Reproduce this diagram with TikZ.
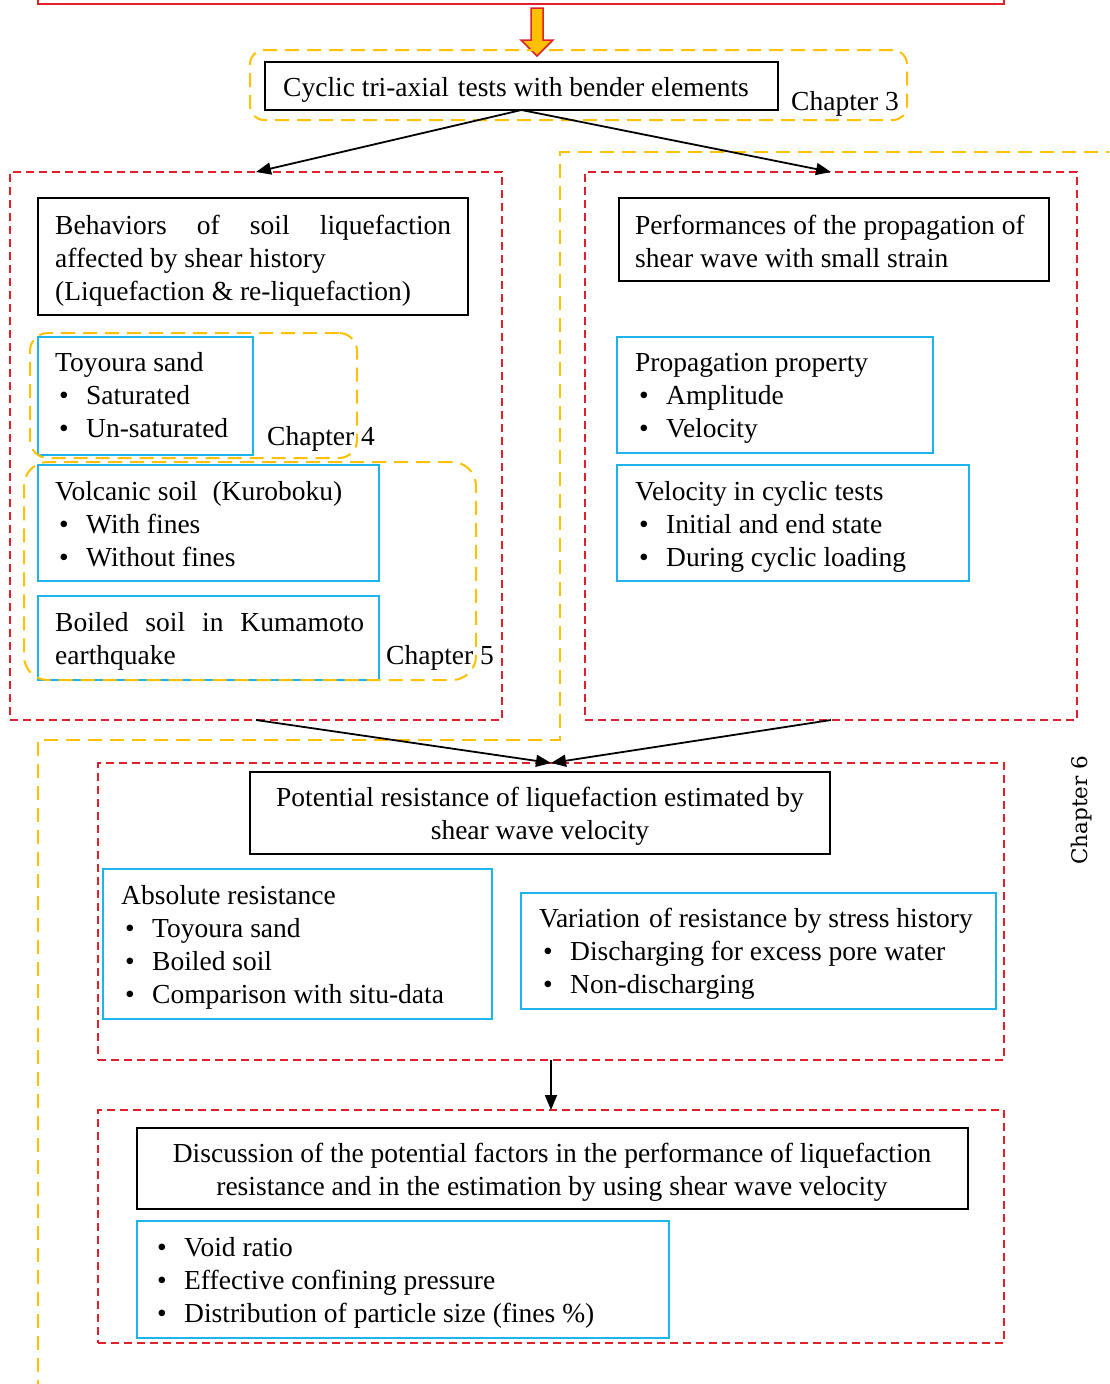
\documentclass[tikz,border=0pt]{standalone}
\usepackage{fontspec}
\setmainfont{Liberation Serif}
\newfontfamily\chapfont{DejaVu Serif}
\usetikzlibrary{arrows.meta}
\definecolor{myred}{HTML}{E0202A}
\definecolor{myyel}{HTML}{FFC000}
\definecolor{myblue}{HTML}{1CB4EC}
\tikzset{
 reddash/.style={draw=myred, line width=2pt, dash pattern=on 8pt off 5pt},
 yeldash/.style={draw=myyel, line width=2pt, dash pattern=on 14pt off 8pt},
 blackbox/.style={draw=black, line width=1.8pt},
 bluebox/.style={draw=myblue, line width=2.2pt},
 rect/.style={anchor=north west, inner sep=0pt, outer sep=0pt},
 txt/.style={anchor=base west, inner sep=0pt, font=\fontsize{27.5}{33}\selectfont},
 ctxt/.style={anchor=base, inner sep=0pt, font=\fontsize{27.5}{33}\selectfont},
 conn/.style={line width=1.8pt, -{Triangle[length=15pt,width=12pt]}},
}
\newcommand\mybul{\makebox[31pt][l]{\hspace{4pt}\textbullet}}
\begin{document}
\begin{tikzpicture}[x=1pt,y=-1pt]
\useasboundingbox (0,0) rectangle (1109,1384);
\clip (0,0) rectangle (1109,1384);
% top box and block arrow
\node[rect, draw=myred, line width=2.5pt, minimum width=966pt, minimum height=80pt, anchor=south west] (topbox) at (38,4) {};
\draw[draw=myred, fill=myyel, line width=1.5pt] (531,8) -- (543,8) -- (543,40) -- (553,40) -- (537,56) -- (521,40) -- (531,40) -- cycle;
% big yellow chapter 6 region
\draw[yeldash] (1120,152) -- (560,152) -- (560,740) -- (38,740) -- (38,1400);
% chapter 3
\node[rect, blackbox, minimum width=513pt, minimum height=48pt] (cyc) at (265,62) {};
\node[rect, yeldash, rounded corners=14pt, minimum width=657pt, minimum height=70pt] (ch3box) at (250,50) {};
\node[txt] (t1) at (283,96) {Cyclic tri-axial\hspace{9pt}tests with bender elements};
\node[txt] (c3) at (791,110) {Chapter 3};
% left red
\node[rect, reddash, minimum width=492pt, minimum height=548pt] (lred) at (10,172) {};
\node[rect, blackbox, minimum width=430pt, minimum height=117pt] (behav) at (38,198) {};
\node[txt] (b1) at (55,234) {\makebox[396pt][s]{Behaviors of soil liquefaction}};
\node[txt] (b2) at (55,267) {affected by shear history};
\node[txt] (b3) at (55,300) {(Liquefaction \& re-liquefaction)};
\node[rect, bluebox, minimum width=215pt, minimum height=118pt] (toy) at (38,337) {};
\node[txt] (ty1) at (55,371) {Toyoura sand};
\node[txt] (ty2) at (55,404) {\mybul Saturated};
\node[txt] (ty3) at (55,437) {\mybul Un-saturated};
\node[rect, yeldash, rounded corners=18pt, minimum width=327pt, minimum height=125pt] (ch4box) at (30,333) {};
\node[txt] (c4) at (267,445) {Chapter 4};
\node[rect, bluebox, minimum width=341pt, minimum height=116pt] (volc) at (38,465) {};
\node[txt] (v1) at (55,500) {Volcanic soil\hspace{15pt}(Kuroboku)};
\node[txt] (v2) at (55,533) {\mybul With fines};
\node[txt] (v3) at (55,566) {\mybul Without fines};
\node[rect, bluebox, minimum width=341pt, minimum height=84pt] (boil) at (38,596) {};
\node[txt] (bo1) at (55,631) {\makebox[309pt][s]{Boiled soil in Kumamoto}};
\node[txt] (bo2) at (55,664) {earthquake};
\node[rect, yeldash, rounded corners=24pt, minimum width=452pt, minimum height=218pt] (ch5box) at (24,462) {};
\node[txt] (c5) at (386,664) {Chapter 5};
% right red
\node[rect, reddash, minimum width=492pt, minimum height=548pt] (rred) at (585,172) {};
\node[rect, blackbox, minimum width=430pt, minimum height=83pt] (perf) at (619,198) {};
\node[txt] (p1) at (635,234) {Performances of the propagation of};
\node[txt] (p2) at (635,267) {shear wave with small strain};
\node[rect, bluebox, minimum width=316pt, minimum height=116pt] (prop) at (617,337) {};
\node[txt] (pr1) at (635,371) {Propagation property};
\node[txt] (pr2) at (635,404) {\mybul Amplitude};
\node[txt] (pr3) at (635,437) {\mybul Velocity};
\node[rect, bluebox, minimum width=352pt, minimum height=116pt] (vel) at (617,465) {};
\node[txt] (ve1) at (635,500) {Velocity in cyclic tests};
\node[txt] (ve2) at (635,533) {\mybul Initial and end state};
\node[txt] (ve3) at (635,566) {\mybul During cyclic loading};
% third red
\node[rect, reddash, minimum width=906pt, minimum height=297pt] (p3) at (98,763) {};
\node[rect, blackbox, minimum width=580pt, minimum height=82pt] (pot) at (250,772) {};
\node[ctxt] (po1) at (540,806) {Potential resistance of liquefaction estimated by};
\node[ctxt] (po2) at (540,839) {shear wave velocity};
\node[rect, bluebox, minimum width=389pt, minimum height=150pt] (abs) at (103,869) {};
\node[txt] (a1) at (121,904) {Absolute resistance};
\node[txt] (a2) at (121,937) {\mybul Toyoura sand};
\node[txt] (a3) at (121,970) {\mybul Boiled soil};
\node[txt] (a4) at (121,1003) {\mybul Comparison with situ-data};
\node[rect, bluebox, minimum width=475pt, minimum height=116pt] (var) at (521,893) {};
\node[txt] (va1) at (539,927) {Variation\hspace{9pt}of resistance by stress history};
\node[txt] (va2) at (539,960) {\mybul Discharging for excess pore water};
\node[txt] (va3) at (539,993) {\mybul Non-discharging};
% fourth red
\node[rect, reddash, minimum width=906pt, minimum height=233pt] (p4) at (98,1110) {};
\node[rect, blackbox, minimum width=831pt, minimum height=81pt] (disc) at (137,1128) {};
\node[ctxt] (d1) at (552,1162) {Discussion of the potential factors in the performance of liquefaction};
\node[ctxt] (d2) at (552,1195) {resistance and in the estimation by using shear wave velocity};
\node[rect, bluebox, minimum width=532pt, minimum height=117pt] (fac) at (137,1221) {};
\node[txt] (f1) at (153,1256) {\mybul Void ratio};
\node[txt] (f2) at (153,1289) {\mybul Effective confining pressure};
\node[txt] (f3) at (153,1322) {\mybul Distribution of particle size (fines \%)};
% chapter 6
\node[rotate=90, inner sep=0pt, font=\chapfont\fontsize{21.5}{24}\selectfont, text=black] (c6) at (1082,810) {Chapter 6};
% connectors
\draw[conn] (cyc.south) -- (lred.north);
\draw[conn] (cyc.south) -- (rred.north);
\draw[conn] (lred.south) -- (p3.north);
\draw[conn] (rred.south) -- (p3.north);
\draw[conn] (p3.south) -- (p4.north);
\end{tikzpicture}
\end{document}
